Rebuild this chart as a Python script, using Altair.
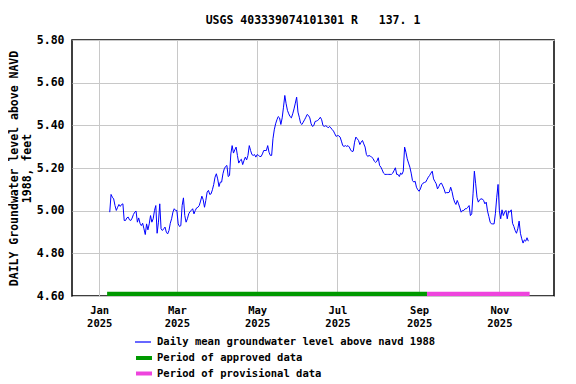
import altair as alt
import pandas as pd

FONT = "DejaVu Sans Mono"

TITLE = "USGS 403339074101301 R\u00a0\u00a0\u00a0137. 1"
Y_TITLE = ["DAILY Groundwater level above NAVD", "1988, feet"]
LINE_LABEL = "Daily mean groundwater level above navd 1988"

# daily mean values, starting 2025-01-09
START_DATE = "2025-01-09"
LEVELS = [
    4.993, 5.076, 5.063, 5.055, 5.024, 5.001, 5.016, 5.029, 5.020, 5.029,
    5.032, 4.954, 4.954, 4.966, 4.970, 4.957, 4.954, 4.965, 4.982, 4.993,
    4.998, 4.946, 4.966, 4.941, 4.930, 4.941, 4.915, 4.888, 4.938, 4.910,
    4.938, 4.977, 4.946, 4.962, 5.001, 5.024, 4.894, 4.946, 5.032, 4.915,
    4.907, 4.915, 4.923, 4.899, 4.891, 4.907, 4.941, 4.962, 4.993, 5.009,
    5.001, 5.001, 4.938, 4.926, 4.930, 5.024, 5.060, 4.977, 4.946, 4.962,
    4.985, 4.996, 5.001, 5.009, 4.985, 5.001, 5.013, 5.016, 5.024, 5.045,
    5.068, 5.051, 5.016, 5.048, 5.087, 5.095, 5.076, 5.079, 5.098, 5.123,
    5.157, 5.173, 5.149, 5.113, 5.134, 5.134, 5.173, 5.196, 5.207, 5.212,
    5.160, 5.165, 5.266, 5.305, 5.270, 5.285, 5.298, 5.259, 5.223, 5.235,
    5.241, 5.216, 5.235, 5.251, 5.238, 5.259, 5.305, 5.282, 5.263, 5.259,
    5.263, 5.251, 5.263, 5.259, 5.254, 5.254, 5.266, 5.282, 5.282, 5.282,
    5.305, 5.274, 5.259, 5.259, 5.337, 5.379, 5.407, 5.426, 5.441, 5.435,
    5.404, 5.435, 5.485, 5.540, 5.501, 5.470, 5.454, 5.441, 5.435, 5.454,
    5.477, 5.504, 5.532, 5.462, 5.438, 5.410, 5.404, 5.415, 5.426, 5.438,
    5.451, 5.446, 5.435, 5.407, 5.395, 5.399, 5.418, 5.420, 5.423, 5.429,
    5.438, 5.426, 5.399, 5.395, 5.398, 5.395, 5.388, 5.395, 5.388, 5.380,
    5.373, 5.360, 5.348, 5.352, 5.351, 5.345, 5.326, 5.305, 5.301, 5.305,
    5.301, 5.305, 5.298, 5.285, 5.277, 5.279, 5.321, 5.345, 5.337, 5.329,
    5.310, 5.321, 5.329, 5.313, 5.298, 5.263, 5.254, 5.259, 5.255, 5.251,
    5.245, 5.232, 5.226, 5.232, 5.248, 5.212, 5.204, 5.191, 5.176, 5.170,
    5.170, 5.170, 5.170, 5.170, 5.170, 5.176, 5.188, 5.201, 5.170, 5.170,
    5.160, 5.176, 5.170, 5.185, 5.298, 5.274, 5.243, 5.223, 5.204, 5.176,
    5.141, 5.134, 5.138, 5.110, 5.098, 5.091, 5.102, 5.121, 5.129, 5.132,
    5.134, 5.145, 5.157, 5.165, 5.176, 5.185, 5.149, 5.137, 5.126, 5.102,
    5.113, 5.126, 5.129, 5.116, 5.101, 5.082, 5.085, 5.084, 5.087, 5.110,
    5.090, 5.060, 5.040, 5.029, 5.048, 5.032, 5.013, 4.993, 5.001, 5.001,
    5.009, 5.009, 5.016, 5.024, 4.977, 4.985, 5.079, 5.185, 5.126, 5.063,
    5.040, 5.051, 5.055, 5.055, 5.048, 5.032, 5.040, 4.998, 4.973, 4.946,
    4.938, 4.938, 4.938, 4.988, 5.063, 5.123, 5.001, 4.962, 5.004, 4.977,
    4.993, 5.001, 4.962, 4.998, 4.993, 5.004, 4.941, 4.926, 4.907, 4.894,
    4.915, 4.951, 4.894, 4.868, 4.848, 4.863, 4.857, 4.873, 4.857,
]

PERIODS = ["Period of approved data", "Period of provisional data"]
PERIOD_START = ["2025-01-07", "2025-09-07"]
PERIOD_END = ["2025-09-07", "2025-11-24"]
PERIOD_COLORS = ["#009900", "#ee44dd"]

Y_TICKS = [4.60, 4.80, 5.00, 5.20, 5.40, 5.60, 5.80]
X_TICK_MONTHS = [1, 3, 5, 7, 9, 11]

dates = pd.date_range(START_DATE, periods=len(LEVELS), freq="D")
line_df = pd.DataFrame({
    "date": dates.strftime("%Y-%m-%d"),
    "level": LEVELS,
    "series": LINE_LABEL,
})
bar_df = pd.DataFrame({"start": PERIOD_START, "end": PERIOD_END, "period": PERIODS})

x_scale = alt.Scale(
    type="utc",
    domain=[
        alt.DateTime(year=2024, month=12, date=11, hours=8, utc=True),
        alt.DateTime(year=2025, month=12, date=12, hours=12, utc=True),
    ],
)
y_scale = alt.Scale(domain=[4.6, 5.8], nice=False, zero=False)

x_axis = alt.Axis(
    values=[alt.DateTime(year=2025, month=m, date=1, utc=True) for m in X_TICK_MONTHS],
    labelExpr="[utcFormat(datum.value, '%b'), utcFormat(datum.value, '%Y')]",
    grid=True, ticks=False, domain=False, labelAngle=0,
    labelPadding=9, labelLineHeight=13, labelFontSize=10.5,
    labelFont=FONT, labelFontWeight="bold", labelColor="black", title=None,
)
y_axis = alt.Axis(
    values=Y_TICKS, format=".2f", grid=True, ticks=False, domain=False,
    labelPadding=8, labelFontSize=11.5, labelFont=FONT, labelFontWeight="bold",
    labelColor="black", title=Y_TITLE, titlePadding=4, titleFontSize=11.5,
    titleFont=FONT, titleFontWeight="bold", titleColor="black",
    titleLineHeight=12.5,
)

bars = alt.Chart(bar_df).mark_rect().encode(
    x=alt.X("start:T", scale=x_scale, axis=x_axis),
    x2="end:T",
    y=alt.YDatum(4.60, type="quantitative", scale=y_scale, axis=y_axis),
    y2=alt.Y2Datum(4.62),
    fill=alt.Fill(
        "period:N",
        scale=alt.Scale(domain=PERIODS, range=PERIOD_COLORS),
        legend=alt.Legend(
            orient="none", legendX=64, legendY=310, title=None,
            symbolType="M-1,-0.25H1V0.25H-1Z", symbolSize=256,
            symbolStrokeWidth=0, symbolOpacity=1, rowPadding=1.5,
            labelOffset=5, padding=0, labelLimit=0,
            labelFont=FONT, labelFontSize=10.5, labelFontWeight="bold",
            labelColor="black",
        ),
    ),
)

line = alt.Chart(line_df).mark_line(strokeWidth=1, interpolate="linear").encode(
    x=alt.X("date:T", scale=x_scale, axis=x_axis),
    y=alt.Y("level:Q", scale=y_scale, axis=y_axis),
    stroke=alt.Stroke(
        "series:N",
        scale=alt.Scale(domain=[LINE_LABEL], range=["#0000ff"]),
        legend=alt.Legend(
            orient="none", legendX=62, legendY=293, title=None,
            symbolType="stroke", symbolSize=256, symbolStrokeWidth=1.2,
            labelOffset=5, padding=0, labelLimit=0,
            labelFont=FONT, labelFontSize=10.5, labelFontWeight="bold",
            labelColor="black",
        ),
    ),
)

chart = alt.layer(bars, line).properties(
    width=482,
    height=256,
    autosize=alt.AutoSizeParams(type="none"),
    padding={"left": 64, "top": 32, "right": 14, "bottom": 84},
    title=alt.TitleParams(
        text=TITLE, font=FONT, fontSize=11.5, fontWeight="bold",
        anchor="middle", offset=8, color="black",
    ),
).configure_view(
    stroke="black", strokeWidth=1.5,
).configure_axis(
    gridColor="#c8c8c8", gridWidth=1,
)

chart.save("out.html", embed_options={"renderer": "svg", "actions": False})
